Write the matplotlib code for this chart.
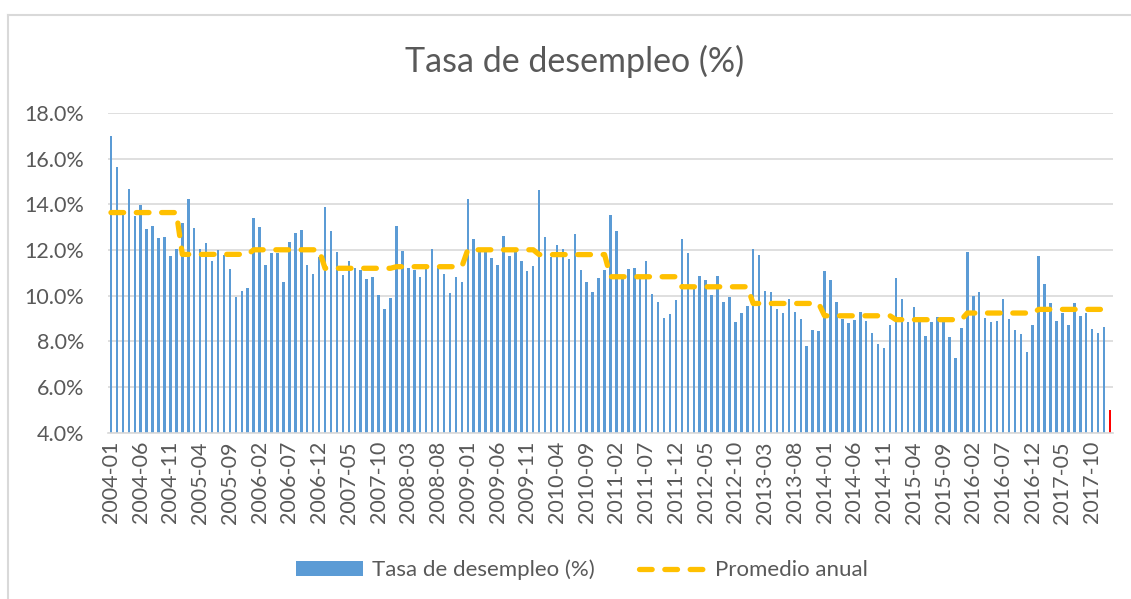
import matplotlib.pyplot as plt
import numpy as np
import pandas as pd
from matplotlib.lines import Line2D
from matplotlib.ticker import FuncFormatter

# tasa de desempleo mensual (%), 2004-01 .. 2018-01
tasa = [
    17.00, 15.65, 13.60, 14.66, 13.50, 13.97, 12.92, 13.05, 12.51, 12.57, 11.75, 12.04,  # 2004
    13.20, 14.22, 12.95, 12.04, 12.29, 11.50, 11.99, 11.80, 11.15, 9.94, 10.20, 10.34,   # 2005
    13.39, 12.99, 11.33, 11.88, 11.88, 10.58, 12.36, 12.76, 12.88, 11.34, 10.93, 11.70,  # 2006
    13.87, 12.82, 11.91, 10.89, 11.52, 11.20, 11.12, 10.72, 10.82, 10.04, 9.40, 9.88,    # 2007
    13.07, 11.97, 11.23, 11.11, 10.82, 11.15, 12.06, 11.21, 10.93, 10.12, 10.80, 10.60,  # 2008
    14.23, 12.48, 11.90, 11.90, 11.66, 11.33, 12.61, 11.74, 11.93, 11.53, 11.08, 11.30,  # 2009
    14.61, 12.57, 11.71, 12.22, 12.03, 11.62, 12.69, 11.14, 10.58, 10.16, 10.77, 11.12,  # 2010
    13.53, 12.83, 10.86, 11.17, 11.23, 10.83, 11.52, 10.07, 9.72, 9.01, 9.21, 9.81,      # 2011
    12.47, 11.85, 10.28, 10.85, 10.69, 10.03, 10.85, 9.74, 9.93, 8.85, 9.24, 9.55,       # 2012
    12.06, 11.78, 10.20, 10.16, 9.42, 9.24, 9.85, 9.27, 8.98, 7.80, 8.48, 8.44,          # 2013
    11.09, 10.67, 9.72, 8.96, 8.80, 8.95, 9.28, 8.89, 8.36, 7.87, 7.71, 8.73,            # 2014
    10.77, 9.85, 8.86, 9.50, 8.86, 8.23, 8.85, 9.08, 8.89, 8.19, 7.27, 8.58,             # 2015
    11.90, 10.00, 10.15, 9.02, 8.86, 8.88, 9.84, 8.98, 8.51, 8.31, 7.52, 8.73,           # 2016
    11.72, 10.50, 9.69, 8.91, 9.26, 8.72, 9.68, 9.11, 9.26, 8.55, 8.38, 8.62,            # 2017
    5.00,                                                                                # 2018
]

anios = list(range(2004, 2018))
promedio_anual = [13.64, 11.81, 12.01, 11.20, 11.27, 12.01, 11.80,
                  10.83, 10.39, 9.66, 9.12, 8.95, 9.24, 9.40]

meses = pd.period_range('2004-01', periods=len(tasa), freq='M').strftime('%Y-%m')
x = np.arange(len(tasa))
promedio = np.repeat(promedio_anual, 12)

gris = '#595959'
plt.rcParams['font.family'] = ['Lato', 'DejaVu Sans']

fig = plt.figure(figsize=(11.31, 5.99), dpi=100)
ax = fig.add_axes([108 / 1131, 1 - 432.7 / 599, 1005 / 1131, 319.7 / 599])

colores = ['#5B9BD5'] * (len(tasa) - 1) + ['#FF0000']
barras = ax.bar(x, tasa, width=0.42, color=colores, zorder=2)
linea, = ax.plot(x[:len(promedio)], promedio, color='#FFC000', lw=3.8,
                 linestyle=(0, (2.4, 2.4)), dash_capstyle='round', zorder=3)

ax.set_xlim(-0.5, len(tasa) - 0.5)
ax.set_ylim(4, 18)
ax.set_yticks(np.arange(4, 18.1, 2))
ax.yaxis.set_major_formatter(FuncFormatter(lambda v, p: f'{v:.1f}%'))
ax.set_xticks(x[::5])
ax.set_xticklabels(meses[::5], rotation=90)
ax.tick_params(axis='both', length=0, labelsize=15.5, colors=gris)
ax.tick_params(axis='x', pad=6)
ax.tick_params(axis='y', pad=17)

ax.grid(axis='y', color='#D9D9D9', lw=1.2, zorder=0)
ax.set_axisbelow(True)
for s in ['top', 'right', 'left']:
    ax.spines[s].set_visible(False)
ax.spines['bottom'].set_color('#D9D9D9')
ax.spines['bottom'].set_linewidth(1.2)

fig.text(575 / 1131, 1 - 61 / 599, 'Tasa de desempleo (%)', ha='center', va='center',
         fontsize=24.5, color=gris)

fig.legend([barras.patches[0], linea], ['Tasa de desempleo (%)', 'Promedio anual'],
           loc='center', bbox_to_anchor=(582 / 1131, 1 - 570 / 599), ncol=2,
           frameon=False, fontsize=16, labelcolor=gris, handlelength=3.0,
           handletextpad=0.4, columnspacing=2.0)

# marco del grafico
fig.add_artist(Line2D([8.3 / 1131, 1], [1 - 14.7 / 599] * 2, transform=fig.transFigure,
                      color='#D9D9D9', lw=1.5))
fig.add_artist(Line2D([8.3 / 1131] * 2, [0, 1 - 14.7 / 599], transform=fig.transFigure,
                      color='#D9D9D9', lw=1.5))

fig.savefig('out.png', dpi=100)
